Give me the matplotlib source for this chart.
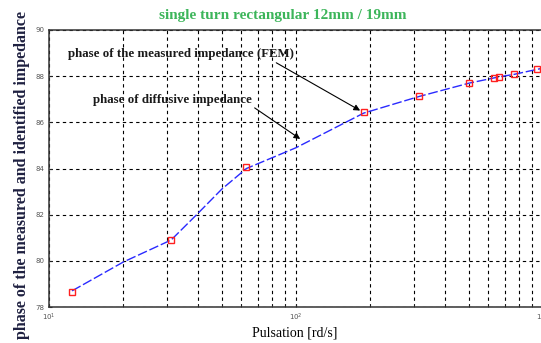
"""Phase of the measured (FEM) and identified diffusive impedance vs pulsation."""

import matplotlib

matplotlib.use("Agg")
import matplotlib.pyplot as plt
import numpy as np

# measured impedance phase (FEM), red squares
pulsation_fem = [12.4, 31.2, 63.0, 188, 315, 503, 634, 664, 765, 950]
phase_fem = [78.66, 80.92, 84.05, 86.43, 87.14, 87.70, 87.91, 87.98, 88.09, 88.31]

# identified diffusive impedance phase, blue dashed curve
pulsation_diff = [12.4, 20, 31.2, 39.6, 50, 63.0, 100, 188, 315, 503, 664, 765, 1000]
phase_diff = [78.70, 79.95, 80.90, 82.0, 83.1, 84.0, 84.9, 86.40, 87.12, 87.70, 87.97, 88.08, 88.35]

y_ticks = [78, 80, 82, 84, 86, 88, 90]

SERIF = ["Liberation Serif", "DejaVu Serif"]

fig = plt.figure(figsize=(5.41, 3.43), dpi=100)
ax = fig.add_axes([49 / 541, 36 / 343, 494 / 541, 277 / 343])

ax.plot(pulsation_diff, phase_diff, color="#2a2aff", linewidth=1.0, dashes=(7, 2))
ax.plot(pulsation_fem, phase_fem, linestyle="none", marker="s", markersize=4,
        markerfacecolor="none", markeredgecolor="#ff2020", markeredgewidth=1.0)

ax.set_xscale("log")
ax.set_xlim(10, 1000)
ax.set_ylim(78, 90)
ax.set_yticks(y_ticks)
ax.grid(True, which="both", axis="x", color="black", linestyle=(0, (3, 3)), linewidth=0.8)
ax.grid(True, which="major", axis="y", color="black", linestyle=(0, (3, 3)), linewidth=0.8)
ax.tick_params(axis="both", which="both", direction="in", labelsize=5, colors="#222222",
               length=2, labelcolor="#555555")
for spine in ax.spines.values():
    spine.set_color("#333333")
    spine.set_linewidth(1.1)

fig.text(283 / 541, 1 - 15 / 343, "single turn rectangular 12mm / 19mm", color="#3cb55a",
         family=SERIF, fontweight="bold", fontsize=11, ha="center", va="center")
fig.text(295 / 541, 1 - 333 / 343, "Pulsation [rd/s]", family=SERIF, fontsize=10,
         ha="center", va="center")
fig.text(22 / 541, 1 - 175 / 343, "phase of the measured and identified impedance", rotation=90,
         ha="center", va="center", family=SERIF, fontweight="bold", fontsize=11.5,
         color="#1e2040")

ax.annotate("phase of the measured impedance (FEM)", xy=(186, 86.45), xytext=(68 / 541, 1 - 54 / 343),
            textcoords="figure fraction", va="center", ha="left", family=SERIF,
            fontweight="bold", fontsize=9.3, color="#1a1a1a",
            arrowprops=dict(arrowstyle="-|>", color="black", lw=0.8, shrinkA=0, shrinkB=2,
                            mutation_scale=9, relpos=(0.9, 0.0)))
ax.annotate("phase of diffusive impedance", xy=(104, 85.28), xytext=(93 / 541, 1 - 100 / 343),
            textcoords="figure fraction", va="center", ha="left", family=SERIF,
            fontweight="bold", fontsize=9.3, color="#1a1a1a",
            arrowprops=dict(arrowstyle="-|>", color="black", lw=0.8, shrinkA=0, shrinkB=0,
                            mutation_scale=9, relpos=(1.0, 0.0)))

fig.savefig("out.png", dpi=100)
